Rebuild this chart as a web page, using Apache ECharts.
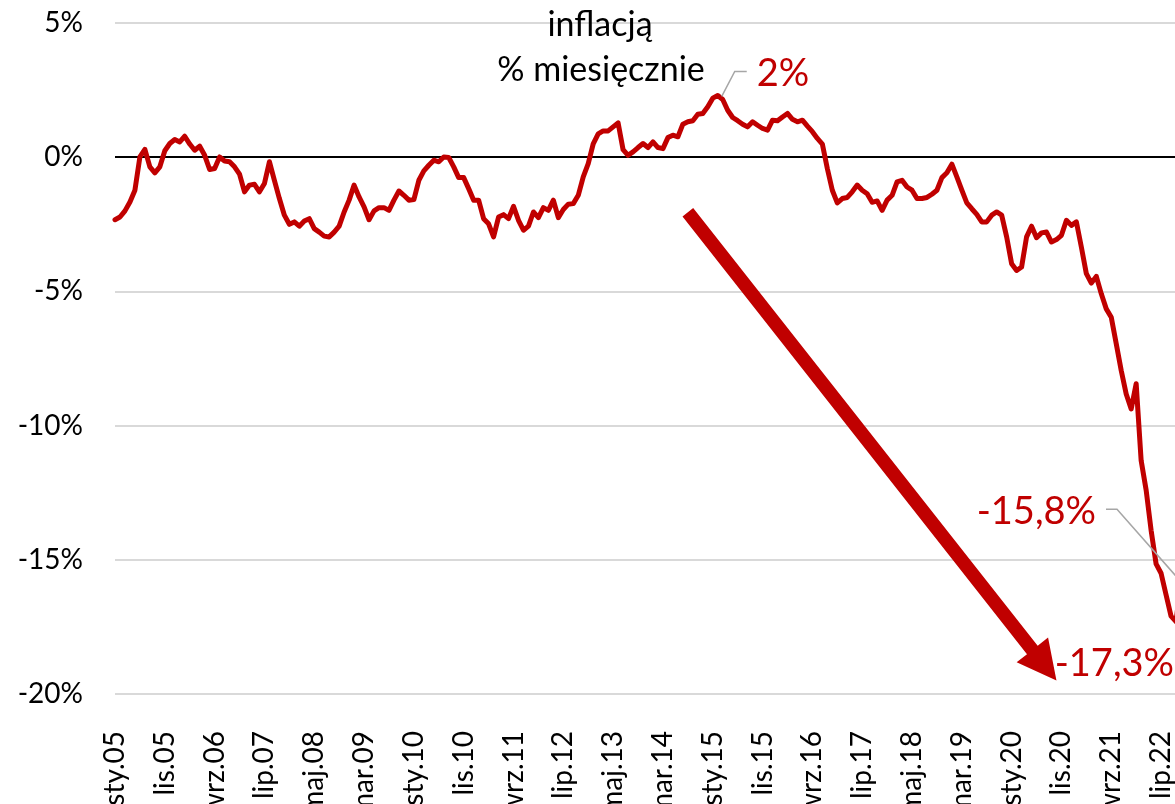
<!DOCTYPE html>
<html>
<head>
<meta charset="utf-8">
<script src="https://cdn.jsdelivr.net/npm/echarts@6/dist/echarts.min.js"></script>
<style>
  html, body { margin: 0; padding: 0; background: #fff; overflow: hidden; }
  #chart { width: 1175px; height: 804px; }
</style>
</head>
<body>
<div id="chart"></div>
<script>
// Monthly series, Jan 2005 onwards (% per month)
const monthNames = ['sty', 'lut', 'mar', 'kwi', 'maj', 'cze', 'lip', 'sie', 'wrz', 'paź', 'lis', 'gru'];
const startYear = 2005;

const values = [
  -2.33, -2.23, -2.00, -1.67, -1.23, 0.01, 0.29, -0.36, -0.58, -0.36, 0.24, 0.51,
  0.66, 0.57, 0.78, 0.49, 0.26, 0.41, 0.07, -0.46, -0.42, 0.01, -0.14, -0.17,
  -0.36, -0.63, -1.29, -1.04, -1.01, -1.29, -0.98, -0.17, -0.86, -1.54, -2.16, -2.50,
  -2.41, -2.57, -2.38, -2.29, -2.66, -2.79, -2.94, -2.97, -2.79, -2.57, -2.04, -1.60,
  -1.04, -1.48, -1.85, -2.33, -2.00, -1.88, -1.88, -1.98, -1.60, -1.26, -1.42, -1.60,
  -1.58, -0.86, -0.51, -0.30, -0.11, -0.17, 0.01, -0.01, -0.36, -0.76, -0.76, -1.17,
  -1.60, -1.60, -2.29, -2.48, -2.97, -2.23, -2.14, -2.29, -1.83, -2.35, -2.72, -2.57,
  -2.04, -2.25, -1.88, -1.98, -1.60, -2.25, -1.95, -1.75, -1.73, -1.42, -0.73, -0.24,
  0.50, 0.87, 0.98, 0.98, 1.13, 1.28, 0.28, 0.07, 0.20, 0.36, 0.51, 0.36,
  0.57, 0.36, 0.32, 0.73, 0.82, 0.76, 1.23, 1.32, 1.36, 1.60, 1.63, 1.88,
  2.20, 2.30, 2.15, 1.75, 1.48, 1.36, 1.23, 1.13, 1.32, 1.19, 1.07, 1.01,
  1.38, 1.36, 1.50, 1.63, 1.41, 1.32, 1.38, 1.16, 0.95, 0.70, 0.49, -0.42,
  -1.23, -1.70, -1.54, -1.50, -1.29, -1.04, -1.23, -1.36, -1.68, -1.63, -1.98, -1.60,
  -1.42, -0.92, -0.86, -1.11, -1.23, -1.54, -1.54, -1.50, -1.38, -1.23, -0.76, -0.58,
  -0.26, -0.73, -1.23, -1.70, -1.92, -2.13, -2.41, -2.41, -2.16, -2.04, -2.16, -2.97,
  -3.97, -4.22, -4.09, -2.97, -2.57, -3.00, -2.82, -2.79, -3.16, -3.07, -2.91, -2.35,
  -2.54, -2.41, -3.35, -4.34, -4.69, -4.44, -5.09, -5.65, -5.96, -6.95, -7.95, -8.82,
  -9.38, -8.44, -11.30, -12.40, -13.90, -15.15, -15.50, -16.30, -17.10, -17.30, -15.80
];

// Month labels such as "sty.05"
const categories = values.map((_, i) =>
  monthNames[i % 12] + '.' + String((startYear + Math.floor(i / 12)) % 100).padStart(2, '0'));

// Value axis
const yMin = -20, yMax = 5, yStep = 5;

// Heading lines
const titleLines = ['inflacją', '% miesięcznie'];

// Annotated points: index into values, decimals shown
const peakNote = { index: 121, decimals: 0 };
const minNote = { index: 213, decimals: 1 };
const lastNote = { index: 214, decimals: 1 };

// Trend arrow, in axis units (category index, value)
const arrowFrom = [115, -2.05];
const arrowTo = [189, -19.5];

const RED = '#c00000';
const FONT = 'Lato';

function fmt(v, d) {
  return v.toFixed(d).replace('.', ',') + '%';
}

const chart = echarts.init(document.getElementById('chart'), null, { renderer: 'canvas' });

chart.setOption({
  animation: false,
  backgroundColor: '#ffffff',
  // plot area runs a little past the right edge, so the latest month sits just outside
  grid: { left: 115, width: 1066, top: 23, height: 671, containLabel: false, outerBoundsMode: 'none' },
  xAxis: {
    type: 'category',
    data: categories,
    boundaryGap: false,
    axisLine: { show: false },
    axisTick: { show: false },
    axisLabel: {
      interval: 9,
      rotate: 90,
      margin: 37,
      color: '#000',
      fontFamily: FONT,
      fontSize: 28
    },
    splitLine: { show: false }
  },
  yAxis: {
    type: 'value',
    min: yMin,
    max: yMax,
    interval: yStep,
    axisLine: { show: false },
    axisTick: { show: false },
    axisLabel: {
      formatter: '{value}%',
      margin: 32,
      color: '#000',
      fontFamily: FONT,
      fontSize: 28
    },
    splitLine: {
      show: true,
      lineStyle: {
        color: ['#d9d9d9', '#d9d9d9', '#d9d9d9', '#d9d9d9', '#000000', '#d9d9d9'],
        width: 2
      }
    }
  },
  series: [{
    type: 'line',
    data: values,
    showSymbol: false,
    symbol: 'none',
    smooth: false,
    lineStyle: { color: RED, width: 5, join: 'round', cap: 'round' },
    z: 3
  }]
});

// Annotations placed from the axes' own pixel mapping
function px(i, v) {
  return chart.convertToPixel({ gridIndex: 0 }, [i, v]);
}

function arrowPolygon(a, b, shaftHalf, headHalf, headLen) {
  const dx = b[0] - a[0], dy = b[1] - a[1];
  const len = Math.hypot(dx, dy);
  const ux = dx / len, uy = dy / len;
  const nx = -uy, ny = ux;
  const bx = b[0] - ux * headLen, by = b[1] - uy * headLen;
  return [
    [a[0] + nx * shaftHalf, a[1] + ny * shaftHalf],
    [bx + nx * shaftHalf, by + ny * shaftHalf],
    [bx + nx * headHalf, by + ny * headHalf],
    [b[0], b[1]],
    [bx - nx * headHalf, by - ny * headHalf],
    [bx - nx * shaftHalf, by - ny * shaftHalf],
    [a[0] - nx * shaftHalf, a[1] - ny * shaftHalf]
  ];
}

const pPeak = px(peakNote.index, values[peakNote.index]);
const pMin = px(minNote.index, values[minNote.index]);
const pLast = px(lastNote.index, values[lastNote.index]);
const aFrom = px(arrowFrom[0], arrowFrom[1]);
const aTo = px(arrowTo[0], arrowTo[1]);

const labelStyle = (text, x, y, align, color, size) => ({
  type: 'text',
  x: x, y: y,
  style: {
    text: text,
    fill: color,
    font: size + 'px ' + FONT,
    align: align,
    verticalAlign: 'middle'
  },
  z: 10
});

const leader = (points) => ({
  type: 'polyline',
  shape: { points: points },
  style: { stroke: '#a6a6a6', lineWidth: 1.5, fill: null },
  z: 9
});

chart.setOption({
  graphic: [
    labelStyle(titleLines[0], 600, 25, 'center', '#000', 34),
    labelStyle(titleLines[1], 601, 70, 'center', '#000', 34),

    leader([[pPeak[0] + 4, pPeak[1] + 1], [pPeak[0] + 17, pPeak[1] - 24], [pPeak[0] + 29, pPeak[1] - 24]]),
    labelStyle(fmt(values[peakNote.index], peakNote.decimals), pPeak[0] + 39, pPeak[1] - 22, 'left', RED, 38),

    leader([[pLast[0] - 75, pLast[1] - 72], [pLast[0] - 64, pLast[1] - 72], [pLast[0] - 4, pLast[1] - 4]]),
    labelStyle(fmt(values[lastNote.index], lastNote.decimals), pLast[0] - 85, pLast[1] - 70, 'right', RED, 38),

    labelStyle(fmt(values[minNote.index], minNote.decimals), pMin[0] - 2, pMin[1] + 42, 'right', RED, 38),

    {
      type: 'polygon',
      shape: { points: arrowPolygon(aFrom, aTo, 6.8, 20, 39) },
      style: { fill: RED },
      z: 8
    }
  ]
});
</script>
</body>
</html>
